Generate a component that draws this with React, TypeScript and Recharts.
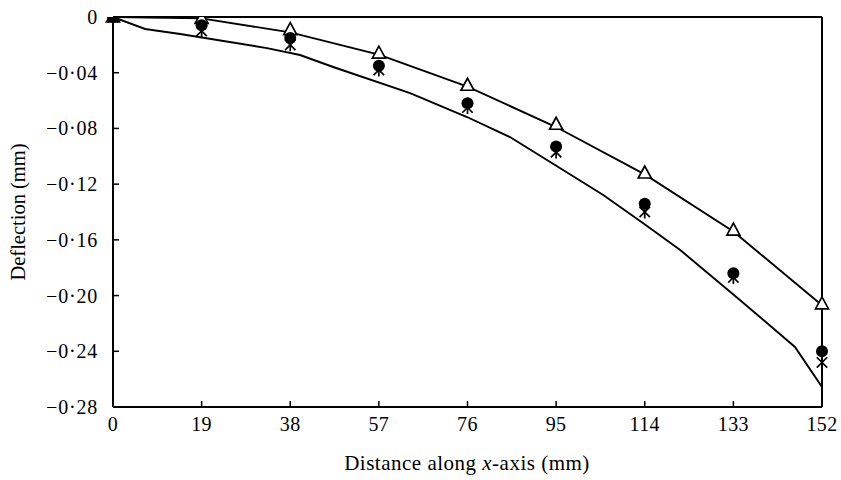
import { ComposedChart, Line, Scatter, XAxis, YAxis, ReferenceLine, Label } from "recharts";

// stations along the beam (mm)
const stations = [0, 19, 38, 57, 76, 95, 114, 133, 152];
const xTicks = [0, 19, 38, 57, 76, 95, 114, 133, 152];
const yTicks = [0, -0.04, -0.08, -0.12, -0.16, -0.2, -0.24, -0.28];
const yTickLabels = ["0", "\u22120\u00b704", "\u22120\u00b708", "\u22120\u00b712", "\u22120\u00b716", "\u22120\u00b720", "\u22120\u00b724", "\u22120\u00b728"];

// measured points
const triangleY = [0, -0.001, -0.009, -0.026, -0.049, -0.077, -0.112, -0.153, -0.206];
const circleY = [0, -0.006, -0.015, -0.035, -0.062, -0.093, -0.134, -0.184, -0.24];
const starY = [0, -0.01, -0.02, -0.038, -0.065, -0.097, -0.14, -0.187, -0.248];

// upper curve (through the triangles)
const upperLineY = [0, -0.001, -0.011, -0.027, -0.05, -0.079, -0.113, -0.154, -0.207];

// lower curve
const lowerLineX = [0, 6.9, 14.4, 33, 40.1, 47.2, 63.7, 75.9, 85.1, 95.8, 105.1, 113.6, 121.6, 134.4, 146.2, 152];
const lowerLineY = [0, -0.0086, -0.0122, -0.0223, -0.0273, -0.0359, -0.0546, -0.0718, -0.0862, -0.1084, -0.1278, -0.1479, -0.1673, -0.2032, -0.2369, -0.2656];

const FONT = "'Liberation Serif', 'Times New Roman', serif";
const PLOT_LEFT = 113;
const PLOT_BOTTOM = 407;

const triData = stations.map((x, i) => ({ x, y: triangleY[i] }));
const circleData = stations.map((x, i) => ({ x, y: circleY[i] }));
const starData = stations.map((x, i) => ({ x, y: starY[i] }));
const upperData = stations.map((x, i) => ({ x, y: upperLineY[i] }));
const lowerData = lowerLineX.map((x, i) => ({ x, y: lowerLineY[i] }));

// y ticks point inward (to the right of the axis)
function YTick(props: any) {
  const { y, payload } = props;
  const idx = yTicks.findIndex((t) => Math.abs(t - payload.value) < 1e-9);
  return (
    <g>
      <line x1={PLOT_LEFT} x2={PLOT_LEFT + 6} y1={y} y2={y} stroke="#000" strokeWidth={1.5} />
      <text x={PLOT_LEFT - 15} y={y} textAnchor="end" dominantBaseline="central" fontFamily={FONT} fontSize={20} letterSpacing={0.8} fill="#000">
        {idx >= 0 ? yTickLabels[idx] : payload.value}
      </text>
    </g>
  );
}

// x ticks point up into the plot
function XTick(props: any) {
  const { x, payload } = props;
  return (
    <g>
      <line x1={x} x2={x} y1={PLOT_BOTTOM} y2={PLOT_BOTTOM - 6} stroke="#000" strokeWidth={1.5} />
      <text x={x} y={PLOT_BOTTOM + 17} textAnchor="middle" dominantBaseline="central" fontFamily={FONT} fontSize={20} letterSpacing={0.4} fill="#000">
        {payload.value}
      </text>
    </g>
  );
}

const Triangle = (p: any) => (
  <polygon
    points={`${p.cx},${p.cy - 7} ${p.cx - 6.5},${p.cy + 5} ${p.cx + 6.5},${p.cy + 5}`}
    fill="#fff"
    stroke="#000"
    strokeWidth={1.7}
  />
);

const Dot = (p: any) => <circle cx={p.cx} cy={p.cy} r={6} fill="#000" />;

const Star = (p: any) => {
  const r = 6.5;
  const d = r * 0.8;
  return (
    <g stroke="#000" strokeWidth={1.7}>
      <line x1={p.cx} y1={p.cy - r} x2={p.cx} y2={p.cy + r} />
      <line x1={p.cx - d} y1={p.cy - d} x2={p.cx + d} y2={p.cy + d} />
      <line x1={p.cx - d} y1={p.cy + d} x2={p.cx + d} y2={p.cy - d} />
    </g>
  );
};

export default function App() {
  return (
    <div style={{ position: "absolute", left: 0, top: 0, width: 841, height: 478 }}>
      <ComposedChart width={841} height={478} margin={{ top: 17, right: 19, bottom: 41, left: 0 }}>
        <XAxis
          type="number"
          dataKey="x"
          domain={[0, 152]}
          ticks={xTicks}
          interval={0}
          height={30}
          axisLine={{ stroke: "#000", strokeWidth: 2 }}
          tickLine={false}
          tick={<XTick />}
        >
          <Label
            content={() => (
              <text x={467} y={470} textAnchor="middle" fontFamily={FONT} fontSize={21} letterSpacing={0.5} fill="#000">
                Distance along <tspan fontStyle="italic">x</tspan>-axis (mm)
              </text>
            )}
          />
        </XAxis>
        <YAxis
          type="number"
          dataKey="y"
          domain={[-0.28, 0]}
          ticks={yTicks}
          interval={0}
          width={113}
          allowDataOverflow
          axisLine={{ stroke: "#000", strokeWidth: 2 }}
          tickLine={false}
          tick={<YTick />}
        >
          <Label
            content={() => (
              <text x={18} y={212} transform="rotate(-90 18 212)" textAnchor="middle" dominantBaseline="central" fontFamily={FONT} fontSize={20.5} fill="#000">
                Deflection (mm)
              </text>
            )}
          />
        </YAxis>
        <ReferenceLine y={0} stroke="#000" strokeWidth={2} />
        <ReferenceLine x={152} stroke="#000" strokeWidth={2} />
        <Line data={upperData} dataKey="y" type="linear" stroke="#000" strokeWidth={1.9} dot={false} isAnimationActive={false} />
        <Line data={lowerData} dataKey="y" type="linear" stroke="#000" strokeWidth={1.9} dot={false} isAnimationActive={false} />
        <Scatter data={triData} dataKey="y" shape={Triangle} isAnimationActive={false} />
        <Scatter data={starData} dataKey="y" shape={Star} isAnimationActive={false} />
        <Scatter data={circleData} dataKey="y" shape={Dot} isAnimationActive={false} />
      </ComposedChart>
    </div>
  );
}
